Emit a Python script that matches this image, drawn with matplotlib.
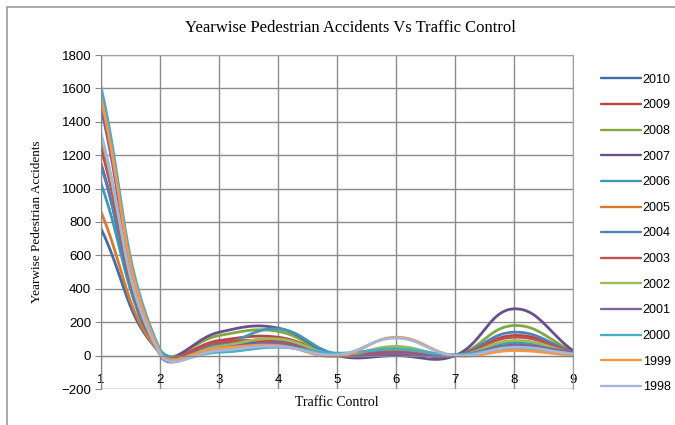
import matplotlib
matplotlib.use('Agg')
import matplotlib.pyplot as plt
import numpy as np
from matplotlib.patches import Rectangle

# categories (traffic control type) and years
controls = [1, 2, 3, 4, 5, 6, 7, 8, 9]
years = ['2010', '2009', '2008', '2007', '2006', '2005', '2004',
         '2003', '2002', '2001', '2000', '1999', '1998']

acc_2010 = [760, 20, 60, 75, 10, 15, 0, 65, 20]
acc_2009 = [1280, 20, 90, 110, 5, 25, 0, 120, 25]
acc_2008 = [1320, 25, 120, 145, 0, 35, 0, 180, 25]
acc_2007 = [1150, 10, 140, 165, 0, 0, 0, 280, 30]
acc_2006 = [1030, 35, 60, 160, 10, 45, 5, 75, 15]
acc_2005 = [860, 15, 40, 60, 0, 15, 0, 35, 5]
acc_2004 = [1140, 25, 70, 90, 10, 20, 0, 140, 20]
acc_2003 = [1240, 20, 80, 80, 5, 20, 0, 110, 20]
acc_2002 = [1310, 15, 55, 100, 5, 55, 0, 90, 15]
acc_2001 = [1480, 5, 45, 70, 0, 10, 0, 60, 20]
acc_2000 = [1610, 35, 20, 50, 15, 40, 5, 45, 10]
acc_1999 = [1540, 20, 45, 60, -5, 110, 0, 30, 0]
acc_1998 = [1330, 10, 30, 55, 5, 105, 0, 50, 10]

series = [acc_2010, acc_2009, acc_2008, acc_2007, acc_2006, acc_2005, acc_2004,
          acc_2003, acc_2002, acc_2001, acc_2000, acc_1999, acc_1998]

colors = ['#3F6CAB', '#B94441', '#82A846', '#6A4E8E', '#3E9AB3', '#D9782F',
          '#4F81BD', '#C0504D', '#9BBB59', '#8064A2', '#4BACC6', '#F79646', '#A5B6D6']


def smooth(xs, ys, sx, sy, n=40):
    # excel-like bezier smoothing, done in pixel space
    p = np.column_stack([np.array(xs, float) * sx, np.array(ys, float) * sy])
    m = len(p)
    out = []
    for i in range(m - 1):
        p0 = p[i - 1] if i > 0 else p[i]
        p1 = p[i]
        p2 = p[i + 1]
        p3 = p[i + 2] if i + 2 < m else p[i + 1]
        d01 = np.hypot(*(p1 - p0))
        d12 = np.hypot(*(p2 - p1))
        d23 = np.hypot(*(p3 - p2))
        t1 = p2 - p0
        t2 = p3 - p1
        f1 = d12 / (d01 + d12) if d01 + d12 > 0 else 0.5
        f2 = d12 / (d12 + d23) if d12 + d23 > 0 else 0.5
        c1 = p1 + t1 * f1 / 2.4
        c2 = p2 - t2 * f2 / 2.4
        t = np.linspace(0, 1, n)[:, None]
        seg = ((1 - t) ** 3) * p1 + 3 * ((1 - t) ** 2) * t * c1 + 3 * (1 - t) * t ** 2 * c2 + t ** 3 * p2
        out.append(seg if i == 0 else seg[1:])
    out = np.vstack(out)
    return out[:, 0] / sx, out[:, 1] / sy


fig = plt.figure(figsize=(6.75, 4.25), dpi=100)
ax = fig.add_axes([101 / 675, 36 / 425, 472 / 675, 334 / 425])

# pixel scale for smoothing
sx = 472 / 8
sy = 334 / 2000

for vals, yr, c in zip(series, years, colors):
    xx, yy = smooth(controls, vals, sx, sy)
    ax.plot(xx, yy, color=c, lw=2.0, label=yr, solid_capstyle='round')

ax.set_xlim(1, 9)
ax.set_ylim(-200, 1800)
ax.set_yticks(np.arange(-200, 1801, 200))
ax.set_xticks(controls)
ax.grid(True, color='#8C8C8C', lw=1.0)
ax.set_axisbelow(True)

for s in ax.spines.values():
    s.set_color('#A0A0A0')
ax.spines['left'].set_color('#868686')
ax.spines['bottom'].set_position(('data', 0))
ax.spines['bottom'].set_color('#868686')
ax.axhline(-200, color='#A0A0A0', lw=1.0, zorder=0)

ax.tick_params(axis='y', length=4, color='#868686', labelsize=9.5, pad=3)
ax.tick_params(axis='x', length=4, color='#868686', labelsize=9.5, pad=9)
for lab in ax.get_xticklabels() + ax.get_yticklabels():
    lab.set_family('Liberation Sans')

fig.text(350 / 675, 1 - 28 / 425, 'Yearwise Pedestrian Accidents Vs Traffic Control',
         ha='center', va='center', family='Liberation Serif', fontsize=12)
fig.text(37 / 675, 1 - 222 / 425, 'Yearwise Pedestrian Accidents', rotation=90,
         ha='center', va='center', family='Liberation Serif', fontsize=9.5)
fig.text(337 / 675, 1 - 402 / 425, 'Traffic Control',
         ha='center', va='center', family='Liberation Serif', fontsize=10)

leg = fig.legend(loc='upper left', bbox_to_anchor=(597 / 675, 1 - 70 / 425),
                 frameon=False, prop={'family': 'Liberation Sans', 'size': 9},
                 handlelength=3.2, handletextpad=0.15, labelspacing=1.09,
                 borderaxespad=0, borderpad=0.3)
for h in leg.get_lines():
    h.set_linewidth(1.7)

fig.patches.append(Rectangle((7 / 675, -0.1), 1.2, 1 - 7 / 425 + 0.1,
                             transform=fig.transFigure, fill=False,
                             edgecolor='#9A9A9A', lw=1.2))

fig.savefig('out.png', dpi=100)
